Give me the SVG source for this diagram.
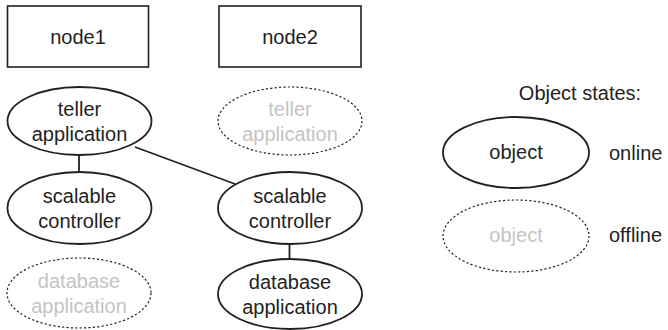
<svg xmlns="http://www.w3.org/2000/svg" width="668" height="330" viewBox="0 0 668 330">
<style>
text{font-family:"Liberation Sans",Arial,sans-serif;font-size:20px;fill:#231f20;text-anchor:middle}
.box{fill:#fff;stroke:#231f20;stroke-width:1.6}
.on{fill:#fff;stroke:#231f20;stroke-width:1.8}
.off{fill:#fff;stroke:#231f20;stroke-width:1.2;stroke-dasharray:2.2 2.2}
text.offt{fill:#c4c4c4}
.conn line{stroke:#231f20;stroke-width:1.8}
text.l{text-anchor:start}
</style>
<rect width="668" height="330" fill="#fff"/>
<g class="conn" id="connectors">
<line x1="79" y1="155" x2="79" y2="172"/>
<line x1="135" y1="147" x2="235" y2="184"/>
<line x1="289.5" y1="244" x2="289.5" y2="258"/>
</g>
<g id="node1"><rect class="box" x="7.5" y="6" width="141" height="61"/><text x="78" y="44">node1</text></g>
<g id="node2"><rect class="box" x="219" y="6" width="142" height="61"/><text x="290" y="44">node2</text></g>
<g id="teller1"><ellipse class="on" cx="79.5" cy="121" rx="72" ry="34"/><text x="79.5" y="116">teller</text><text x="79.5" y="141">application</text></g>
<g id="teller2"><ellipse class="off" cx="290" cy="121" rx="72" ry="34"/><text class="offt" x="290" y="116">teller</text><text class="offt" x="290" y="141">application</text></g>
<g id="controller1"><ellipse class="on" cx="79.5" cy="208" rx="72" ry="36"/><text x="79.5" y="203">scalable</text><text x="79.5" y="228">controller</text></g>
<g id="controller2"><ellipse class="on" cx="290" cy="208" rx="72" ry="36"/><text x="290" y="203">scalable</text><text x="290" y="228">controller</text></g>
<g id="database1"><ellipse class="off" cx="79" cy="293" rx="72" ry="35"/><text class="offt" x="79" y="288">database</text><text class="offt" x="79" y="313">application</text></g>
<g id="database2"><ellipse class="on" cx="290" cy="294" rx="72" ry="35"/><text x="290" y="289">database</text><text x="290" y="314">application</text></g>
<g id="legend">
<text x="580" y="100">Object states:</text>
<ellipse class="on" cx="516" cy="152.5" rx="73" ry="35.5"/><text x="516" y="159">object</text>
<text class="l" x="609" y="160">online</text>
<ellipse class="off" cx="516" cy="236" rx="73" ry="36"/><text class="offt" x="516" y="242">object</text>
<text class="l" x="609" y="242">offline</text>
</g>
</svg>
